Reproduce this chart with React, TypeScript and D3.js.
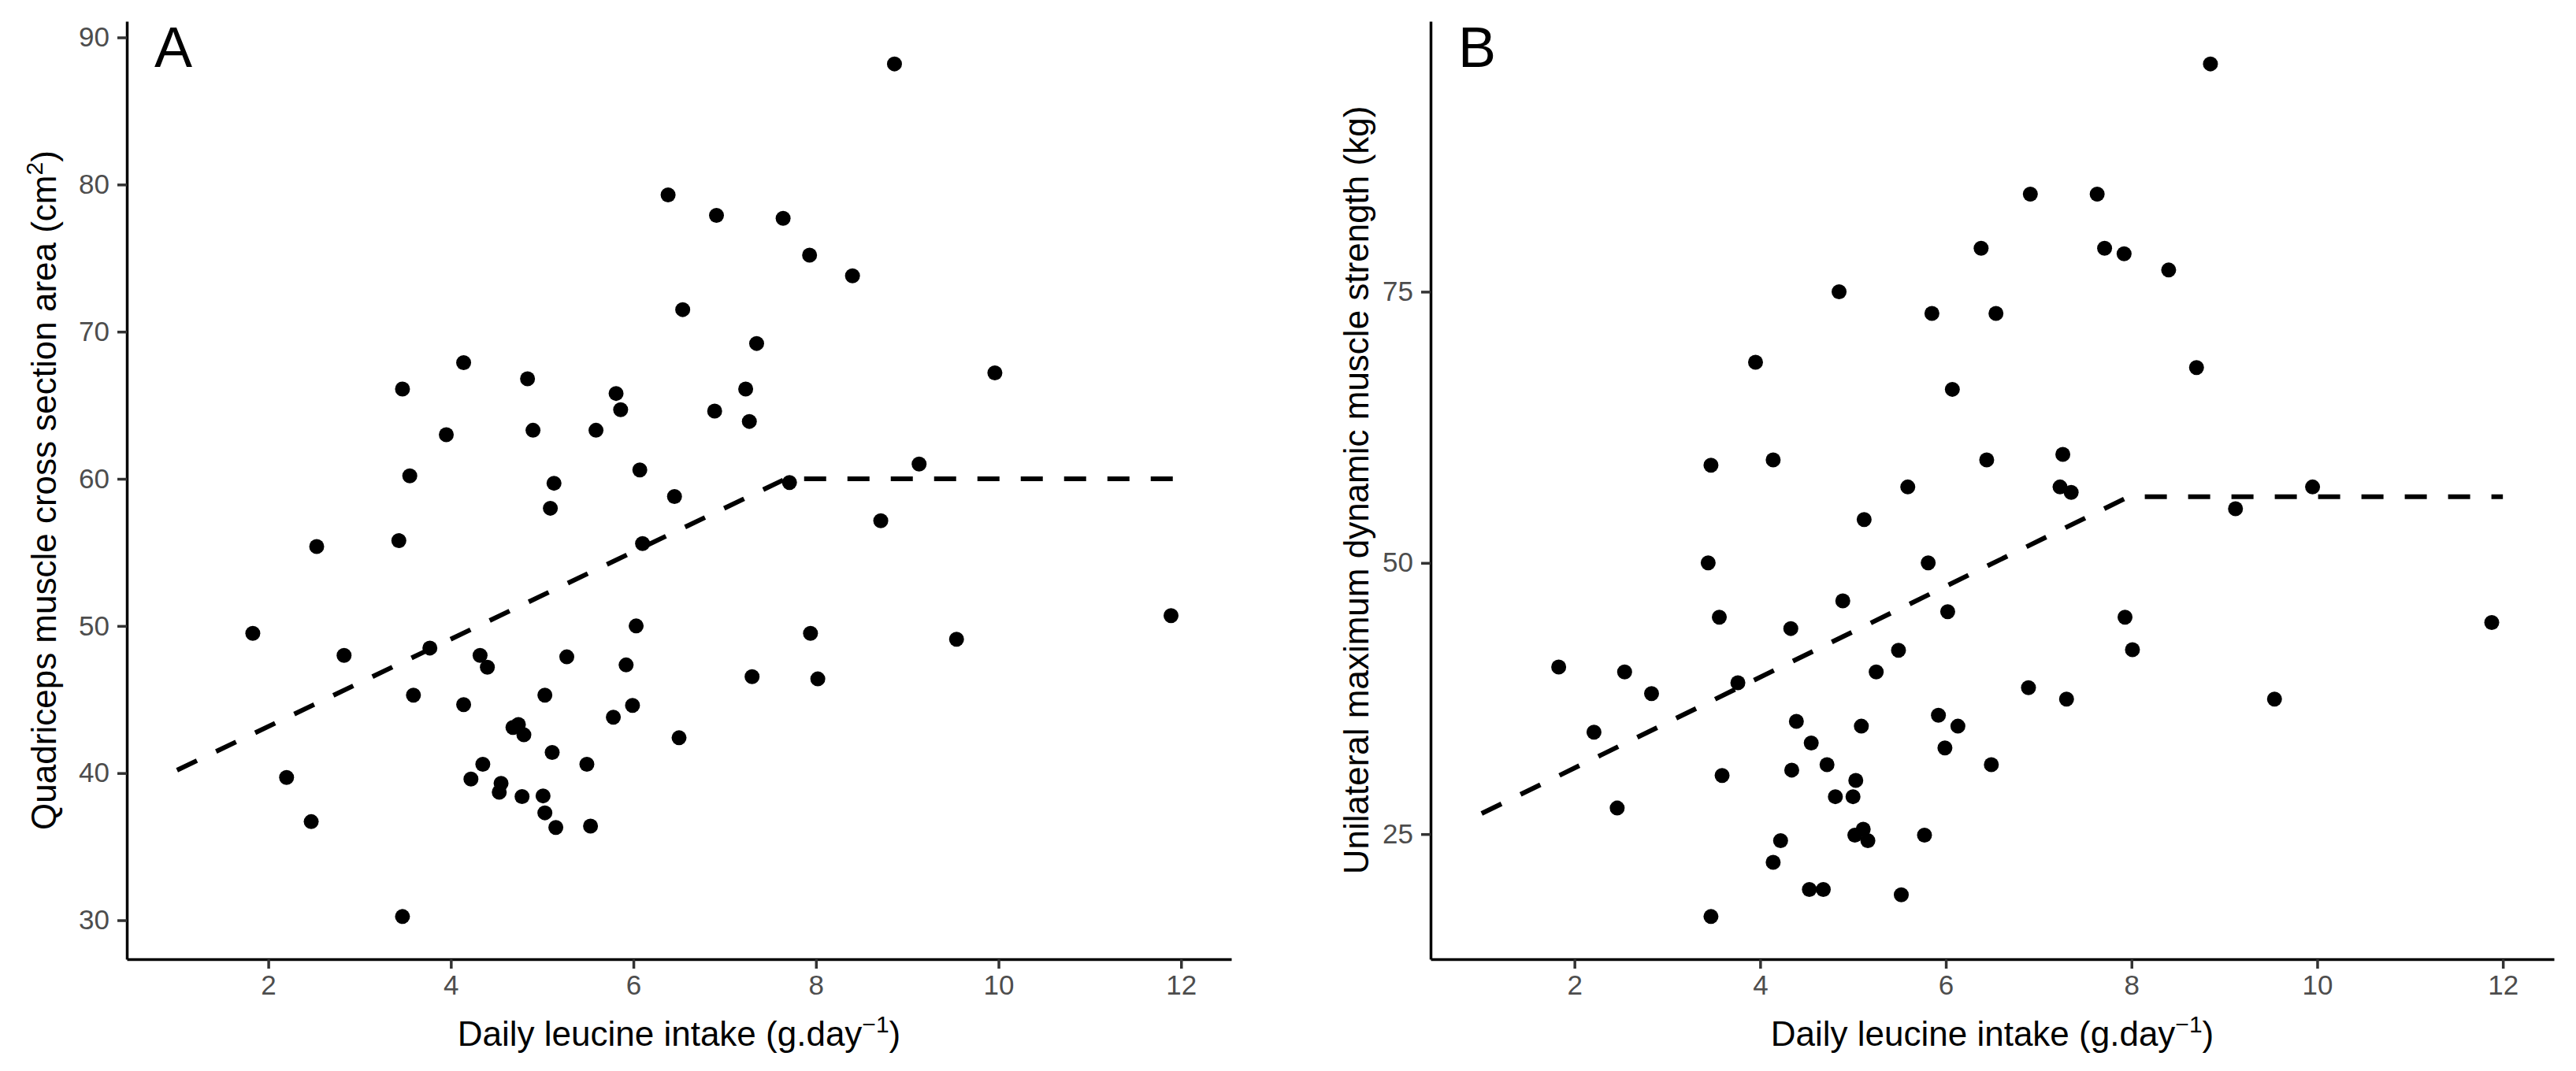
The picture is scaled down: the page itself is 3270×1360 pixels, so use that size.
import { useEffect, useRef } from "react";
import * as d3 from "d3";

// Panel A: quadriceps CSA vs daily leucine intake
const leucineA = [
  1.83, 2.2, 2.47, 2.53, 2.83, 3.43, 3.47, 3.47, 3.55, 3.59, 3.77, 3.95, 4.14, 4.14,
  4.22, 4.32, 4.35, 4.4, 4.53, 4.55, 4.68, 4.74, 4.78, 4.8, 4.84, 4.9, 5.01, 5.03,
  5.03, 5.09, 5.11, 5.13, 5.15, 5.27, 5.49, 5.53, 5.59, 5.78, 5.81, 5.86, 5.92, 5.99,
  6.03, 6.07, 6.1, 6.38, 6.45, 6.5, 6.54, 6.89, 6.91, 7.23, 7.27, 7.3, 7.35, 7.64,
  7.71, 7.93, 7.94, 8.02, 8.4, 8.71, 8.86, 9.13, 9.54, 9.96, 11.89,
];
const csaA = [
  49.5, 39.7, 36.7, 55.4, 48.0, 55.8, 66.1, 30.25, 60.2, 45.3, 48.5, 63.0, 67.9, 44.65,
  39.6, 48.0, 40.6, 47.2, 38.7, 39.3, 43.1, 43.3, 38.4, 42.6, 66.8, 63.3, 38.45, 45.3,
  37.3, 58.0, 41.4, 59.7, 36.3, 47.9, 40.6, 36.4, 63.3, 43.8, 65.8, 64.7, 47.35, 44.6,
  50.0, 60.6, 55.6, 79.3, 58.8, 42.4, 71.5, 64.6, 77.9, 66.1, 63.9, 46.55, 69.2, 77.7,
  59.75, 75.2, 49.5, 46.4, 73.8, 57.15, 88.2, 61.0, 49.1, 67.2, 50.7,
];

// Panel B: unilateral maximum dynamic strength vs daily leucine intake
const leucineB = [
  1.83, 2.21, 2.46, 2.54, 2.83, 3.44, 3.47, 3.47, 3.56, 3.59, 3.76, 3.95, 4.14, 4.14,
  4.22, 4.33, 4.34, 4.39, 4.53, 4.55, 4.68, 4.72, 4.81, 4.85, 4.89, 5.0, 5.02, 5.03,
  5.09, 5.11, 5.12, 5.16, 5.25, 5.49, 5.52, 5.59, 5.77, 5.81, 5.85, 5.92, 5.99, 6.02,
  6.07, 6.13, 6.38, 6.44, 6.49, 6.54, 6.89, 6.91, 7.23, 7.26, 7.3, 7.35, 7.63, 7.71,
  7.92, 7.93, 8.01, 8.4, 8.7, 8.85, 9.12, 9.54, 9.95, 11.88,
];
const strengthB = [
  40.4, 34.4, 27.4, 39.95, 37.95, 50.0, 59.0, 17.4, 45.0, 30.4, 38.95, 68.5, 59.5, 22.4,
  24.4, 43.95, 30.9, 35.4, 19.9, 33.4, 19.9, 31.4, 28.45, 75.0, 46.5, 28.45, 24.9, 29.95,
  34.95, 25.45, 54.0, 24.4, 39.95, 41.95, 19.4, 57.0, 24.9, 50.0, 73.0, 35.95, 32.95, 45.5,
  66.0, 34.95, 79.0, 59.5, 31.4, 73.0, 38.5, 84.0, 57.0, 60.0, 37.45, 56.5, 84.0, 79.0,
  78.5, 45.0, 42.0, 77.0, 68.0, 96.0, 55.0, 37.45, 57.0, 44.5,
];

// broken-stick fits (start, breakpoint, end)
const fitXA = [1, 7.67, 12];
const fitYA = [40.2, 60.0, 60.0];
const fitXB = [1, 7.97, 12];
const fitYB = [26.9, 56.1, 56.1];

const xTicks = [2, 4, 6, 8, 10, 12];
const yTicksA = [30, 40, 50, 60, 70, 80, 90];
const yTicksB = [25, 50, 75];

const FONT = "'Liberation Sans', Arial, Helvetica, sans-serif";
const WIDTH = 3270;
const HEIGHT = 1360;

type PanelSpec = {
  label: string;
  left: number;
  right: number;
  xs: number[];
  ys: number[];
  fitX: number[];
  fitY: number[];
  yTicks: number[];
  yTitle: string;
  yTitleSup?: string;
  yTitleEnd?: string;
  yTitleX: number;
};

const TOP = 27;
const BOTTOM = 1218;

function expand(vals: number[]): [number, number] {
  const [lo, hi] = d3.extent(vals) as [number, number];
  const pad = (hi - lo) * 0.05;
  return [lo - pad, hi + pad];
}

function drawPanel(svg: d3.Selection<SVGSVGElement, unknown, null, undefined>, p: PanelSpec) {
  const x = d3.scaleLinear().domain(expand([...p.xs, ...p.fitX])).range([p.left, p.right]);
  const y = d3.scaleLinear().domain(expand([...p.ys, ...p.fitY])).range([BOTTOM, TOP]);

  const g = svg.append("g");

  // points
  g.selectAll("circle")
    .data(p.xs.map((v, i) => [v, p.ys[i]]))
    .enter()
    .append("circle")
    .attr("cx", d => x(d[0]))
    .attr("cy", d => y(d[1]))
    .attr("r", 9.5)
    .attr("fill", "#000");

  // segmented regression line
  const line = d3.line<number>()
    .x(d => x(d))
    .y((_, i) => y(p.fitY[i]));
  g.append("path")
    .attr("d", line(p.fitX))
    .attr("fill", "none")
    .attr("stroke", "#000")
    .attr("stroke-width", 6)
    .attr("stroke-dasharray", "28 27");

  // axes
  const xAxis = g.append("g")
    .attr("transform", `translate(0,${BOTTOM})`)
    .call(d3.axisBottom(x).tickValues(xTicks).tickSize(12).tickSizeOuter(0).tickPadding(8));
  const yAxis = g.append("g")
    .attr("transform", `translate(${p.left},0)`)
    .call(d3.axisLeft(y).tickValues(p.yTicks).tickSize(12).tickSizeOuter(0).tickPadding(10));

  for (const ax of [xAxis, yAxis]) {
    ax.select(".domain").attr("stroke", "#000").attr("stroke-width", 3.5);
    ax.selectAll(".tick line").attr("stroke", "#333").attr("stroke-width", 3.5);
    ax.selectAll(".tick text")
      .attr("fill", "#4d4d4d")
      .attr("font-size", 35)
      .attr("font-family", FONT);
  }

  // panel letter
  svg.append("text")
    .attr("x", p.left + 35)
    .attr("y", 85)
    .attr("font-size", 72)
    .attr("font-family", FONT)
    .text(p.label);

  // x title
  const xt = svg.append("text")
    .attr("x", (p.left + p.right) / 2)
    .attr("y", 1328)
    .attr("text-anchor", "middle")
    .attr("font-size", 44)
    .attr("font-family", FONT);
  xt.append("tspan").text("Daily leucine intake (g.day");
  xt.append("tspan").attr("font-size", 30).attr("dy", -17).text("\u22121");
  xt.append("tspan").attr("dy", 17).text(")");

  // y title
  const yt = svg.append("text")
    .attr("transform", `translate(${p.yTitleX},${(TOP + BOTTOM) / 2}) rotate(-90)`)
    .attr("text-anchor", "middle")
    .attr("font-size", 44)
    .attr("font-family", FONT);
  yt.append("tspan").text(p.yTitle);
  if (p.yTitleSup) {
    yt.append("tspan").attr("font-size", 30).attr("dy", -17).text(p.yTitleSup);
    yt.append("tspan").attr("dy", 17).text(p.yTitleEnd ?? "");
  }
}

export default function App() {
  const svgRef = useRef<SVGSVGElement | null>(null);

  useEffect(() => {
    if (!svgRef.current) return;
    const svg = d3.select(svgRef.current);
    svg.selectAll("*").remove();
    svg.append("rect").attr("width", WIDTH).attr("height", HEIGHT).attr("fill", "#fff");

    drawPanel(svg, {
      label: "A",
      left: 161,
      right: 1563,
      xs: leucineA,
      ys: csaA,
      fitX: fitXA,
      fitY: fitYA,
      yTicks: yTicksA,
      yTitle: "Quadriceps muscle cross section area (cm",
      yTitleSup: "2",
      yTitleEnd: ")",
      yTitleX: 71,
    });
    drawPanel(svg, {
      label: "B",
      left: 1816,
      right: 3242,
      xs: leucineB,
      ys: strengthB,
      fitX: fitXB,
      fitY: fitYB,
      yTicks: yTicksB,
      yTitle: "Unilateral maximum dynamic muscle strength (kg)",
      yTitleX: 1737,
    });
  }, []);

  return (
    <div style={{ position: "absolute", left: 0, top: 0 }}>
      <svg ref={svgRef} width={WIDTH} height={HEIGHT} />
    </div>
  );
}
